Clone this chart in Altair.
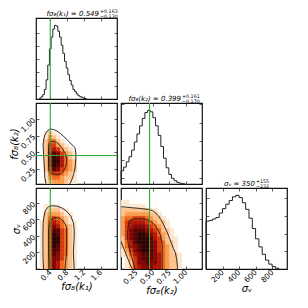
import altair as alt
import pandas as pd

FONT = "DejaVu Sans"
W = H = 81
GAP = 4
GREEN = "#38a838"

# ---------------- parameter ranges, ticks, true values ----------------
K1_DOMAIN = [0.06, 1.99]
K2_DOMAIN = [0.02, 1.24]
SV_DOMAIN = [0, 980]
K1_TICKS = [0.4, 0.8, 1.2, 1.6]
K2_TICKS = [0.25, 0.5, 0.75, 1.0]
SV_TICKS = [200, 400, 600, 800]
K1_TRUE = [0.4]
K2_TRUE = [0.45]

LABEL_K1 = "fσ₈(k₁)"
LABEL_K2 = "fσ₈(k₂)"
LABEL_SV = "σᵥ"

TITLE_K1 = ["fσ₈(k₁) = 0.549", "+0.163", "−0.130"]
TITLE_K2 = ["fσ₈(k₂) = 0.399", "+0.161", "−0.170"]
TITLE_SV = ["σᵥ = 350", "+155", "−232"]

# ---------------- 1-D marginal histograms (peak normalised to 1) ----------------
H1_START, H1_STEP = 0.14, 0.04
H1_VALUES = [0.01, 0.03, 0.06, 0.13, 0.26, 0.46, 0.68, 0.84, 0.95, 1.00, 0.99,
             0.92, 0.84, 0.73, 0.62, 0.51, 0.42, 0.33, 0.25, 0.19, 0.13, 0.10,
             0.07, 0.045, 0.033, 0.022, 0.011, 0.006]
H2_START, H2_STEP = 0.02, 0.04
H2_VALUES = [0.18, 0.23, 0.30, 0.37, 0.46, 0.57, 0.68, 0.79, 0.89, 0.97, 1.00,
             0.98, 0.90, 0.79, 0.66, 0.51, 0.35, 0.22, 0.13, 0.077, 0.044,
             0.022, 0.011, 0.004]
H3_START, H3_STEP = 0, 40
H3_VALUES = [0.65, 0.66, 0.68, 0.70, 0.76, 0.82, 0.88, 0.93, 0.98, 1.00, 0.97,
             0.90, 0.81, 0.69, 0.55, 0.41, 0.30, 0.20, 0.12, 0.066, 0.033, 0.011]
HIST_DOMAIN = [0, 1.1]
H1_YTICKS = [0.18, 0.36, 0.54, 0.72, 0.90]
H2_YTICKS = [0.08, 0.33, 0.58, 0.83, 1.08]
H3_YTICKS = [0.24, 0.48, 0.72, 0.96]

# ---------------- 2-D density grids (level 0-9, top row first) ----------------
K1_BIN = 0.0965
K2_BIN = 0.061
SV_BIN = 49

# x = fσ8(k1), y = fσ8(k2); rows 12 .. 0
A_GRID = [
    "00121000000",
    "00132100000",
    "00244210000",
    "00255321000",
    "00256532100",
    "00268753210",
    "00269864210",
    "00269964320",
    "00269864320",
    "00258754320",
    "00145543210",
    "00134432210",
    "00123332110",
]
# x = fσ8(k1), y = σv; rows 15 .. 0
B_GRID = [
    "00111100000",
    "00122211000",
    "00233321100",
    "00245432100",
    "01256542110",
    "01257643210",
    "01258854210",
    "01259854210",
    "01259954210",
    "01259954210",
    "01259854210",
    "01258854210",
    "01258754210",
    "01257753210",
    "01257643210",
    "01257643210",
]
# x = fσ8(k2), y = σv; rows 16 .. 0
C_GRID = [
    "110000000000000",
    "111111000000000",
    "222222211000000",
    "233333322100000",
    "344555432210000",
    "356666543221000",
    "356777654321000",
    "357888765422100",
    "357899876432100",
    "257899986532110",
    "246899987542210",
    "246789987543210",
    "135789987543210",
    "124678887643221",
    "013578887643221",
    "012577877643221",
    "012567776643221",
]
COLORS = ["#fde6cf", "#fcc38c", "#f99c4f", "#f06a1e", "#d8380a",
          "#b21505", "#870604", "#5a0202", "#2e0000"]
LEVELS = [1, 2, 3, 4, 5, 6, 7, 8, 9]

# ---------------- contour paths ----------------
A_OUTER = [(0.30, 0.02), (0.27, 0.12), (0.26, 0.26), (0.24, 0.46), (0.23, 0.62),
           (0.25, 0.71), (0.28, 0.77), (0.33, 0.82), (0.40, 0.85), (0.48, 0.84),
           (0.56, 0.82), (0.64, 0.78), (0.71, 0.74), (0.80, 0.69), (0.87, 0.64),
           (0.94, 0.60), (0.99, 0.565), (1.01, 0.48), (1.01, 0.41), (1.00, 0.32),
           (0.99, 0.26), (0.96, 0.18), (0.93, 0.11), (0.89, 0.05), (0.86, 0.02)]
A_INNER = [(0.46, 0.66), (0.55, 0.65), (0.62, 0.61), (0.67, 0.57), (0.73, 0.51),
           (0.77, 0.46), (0.79, 0.40), (0.79, 0.34), (0.76, 0.27), (0.71, 0.21),
           (0.64, 0.17), (0.56, 0.16), (0.48, 0.17), (0.40, 0.19), (0.37, 0.23),
           (0.36, 0.30), (0.36, 0.40), (0.36, 0.50), (0.36, 0.57), (0.38, 0.63),
           (0.42, 0.66), (0.46, 0.66)]
B_OUTER = [(0.24, 0), (0.23, 100), (0.225, 250), (0.225, 400), (0.23, 550),
           (0.25, 640), (0.28, 700), (0.32, 735), (0.36, 752), (0.44, 765),
           (0.56, 760), (0.67, 740), (0.79, 700), (0.89, 640), (0.95, 560),
           (0.97, 480), (0.97, 400), (0.96, 300), (0.95, 194), (0.96, 100), (0.97, 0)]
B_INNER = [(0.375, 0), (0.37, 100), (0.36, 194), (0.36, 300), (0.36, 400),
           (0.36, 478), (0.38, 540), (0.40, 579), (0.44, 605), (0.48, 619),
           (0.60, 619), (0.66, 605), (0.71, 579), (0.76, 540), (0.79, 498),
           (0.79, 400), (0.79, 275), (0.78, 150), (0.76, 60), (0.75, 0)]
C_OUTER_TOP = [(0.02, 753), (0.10, 748), (0.19, 741), (0.30, 733), (0.44, 720),
               (0.50, 705), (0.54, 680), (0.58, 645), (0.62, 599), (0.66, 540),
               (0.70, 470), (0.74, 397), (0.78, 310), (0.81, 250), (0.84, 194),
               (0.86, 110), (0.87, 32), (0.87, 0)]
C_OUTER_LOW = [(0.02, 336), (0.05, 270), (0.09, 194), (0.13, 110), (0.16, 50), (0.19, 0)]
C_INNER = [(0.237, 0), (0.21, 60), (0.18, 150), (0.15, 230), (0.13, 300),
           (0.12, 380), (0.12, 450), (0.13, 520), (0.14, 570), (0.17, 597),
           (0.22, 607), (0.33, 607), (0.39, 603), (0.45, 585), (0.50, 555),
           (0.54, 518), (0.58, 470), (0.62, 397), (0.64, 300), (0.64, 194),
           (0.64, 100), (0.64, 0)]


# ---------------- helpers ----------------
def sc(dom):
    return alt.Scale(domain=dom, nice=False, zero=False)


def ax(orient, values, labels=False, fmt=None, title=None):
    kw = dict(orient=orient, values=values, labels=labels, tickSize=3, offset=-3,
              domain=False, grid=False, tickColor="#333333", tickWidth=0.8,
              title=title)
    if labels:
        kw.update(format=fmt, labelAngle=315, labelAlign="right",
                  labelBaseline="middle", labelFont=FONT, labelFontSize=7.5,
                  labelColor="black", labelPadding=2, labelOverlap=False,
                  labelFlush=False)
    if title:
        kw.update(titleFont=FONT, titleFontSize=10, titleFontStyle="italic",
                  titleFontWeight="normal", titleColor="black", titlePadding=0)
    return alt.Axis(**kw)


def hist_df(start, step, values):
    n = len(values)
    xs = [start] + [start + i * step for i in range(n)] + [start + n * step]
    ys = [0] + list(values) + [0]
    return pd.DataFrame({"x": xs, "y": ys, "i": list(range(len(xs)))})


def grid_df(rows, xstart, xstep, ystart, ystep):
    n = len(rows)
    recs = []
    for r, s in enumerate(rows):
        j = n - 1 - r
        for i, ch in enumerate(s):
            lv = int(ch)
            if lv:
                recs.append({"x": xstart + i * xstep, "x2": xstart + (i + 1) * xstep,
                             "y": ystart + j * ystep, "y2": ystart + (j + 1) * ystep,
                             "lv": lv})
    return pd.DataFrame(recs)


def contour_df(paths):
    recs = []
    for g, path in enumerate(paths):
        for i, (x, y) in enumerate(path):
            recs.append({"x": x, "y": y, "g": g, "i": i})
    return pd.DataFrame(recs)


def frame(xdom, ydom, xt, yt):
    df = pd.DataFrame({"x": [xdom[0]], "y": [ydom[0]]})
    return alt.Chart(df).mark_point(opacity=0, size=1).encode(
        x=alt.X("x:Q", scale=sc(xdom), axis=ax("top", xt)),
        y=alt.Y("y:Q", scale=sc(ydom), axis=ax("right", yt)),
    )


def vrule(vals, dom):
    return alt.Chart(pd.DataFrame({"v": vals})).mark_rule(
        color=GREEN, strokeWidth=1.1).encode(x=alt.X("v:Q", scale=sc(dom), axis=None))


def hrule(vals, dom):
    return alt.Chart(pd.DataFrame({"v": vals})).mark_rule(
        color=GREEN, strokeWidth=1.1).encode(y=alt.Y("v:Q", scale=sc(dom), axis=None))


def title_marks(parts, xsplit):
    out = []
    specs = [(parts[0], "right", xsplit, -2.2, 7, "italic"),
             (parts[1], "left", xsplit + 1, -4.6, 4.8, "normal"),
             (parts[2], "left", xsplit + 1, -0.3, 4.8, "normal")]
    for txt, align, x, y, size, style in specs:
        out.append(alt.Chart(pd.DataFrame({"t": [txt]})).mark_text(
            font=FONT, fontSize=size, fontStyle=style, align=align,
            baseline="alphabetic", color="black").encode(
            x=alt.value(x), y=alt.value(y), text="t:N"))
    return out


def hist_panel(start, step, vals, xdom, xt, yt, truth, title, xsplit,
               xlabels=False, xfmt=None, xtitle=None):
    base = alt.Chart(hist_df(start, step, vals)).mark_line(
        interpolate="step-after", color="#222222", strokeWidth=1).encode(
        x=alt.X("x:Q", scale=sc(xdom), axis=ax("bottom", xt, xlabels, xfmt, xtitle)),
        y=alt.Y("y:Q", scale=sc(HIST_DOMAIN), axis=ax("left", yt)),
        order="i:Q",
    )
    layers = [base]
    if truth:
        layers.append(vrule(truth, xdom))
    layers.append(frame(xdom, HIST_DOMAIN, xt, yt))
    layers += title_marks(title, xsplit)
    return alt.layer(*layers).resolve_axis(x="independent", y="independent").properties(
        width=W, height=H)


CSCALE = alt.Scale(domain=LEVELS, range=COLORS)


def panel2d(rows, gx, gy, paths, xdom, ydom, xt, yt, xkw, ykw, vtruth, htruth):
    rect = alt.Chart(grid_df(rows, xdom[0], gx, ydom[0], gy)).mark_rect(
        clip=True, strokeWidth=0.5).encode(
        x=alt.X("x:Q", scale=sc(xdom), axis=ax("bottom", xt, **xkw)),
        x2="x2:Q",
        y=alt.Y("y:Q", scale=sc(ydom), axis=ax("left", yt, **ykw)),
        y2="y2:Q",
        color=alt.Color("lv:Q", scale=CSCALE, legend=None),
        stroke=alt.Stroke("lv:Q", scale=CSCALE, legend=None),
    )
    cont = alt.Chart(contour_df(paths)).mark_line(
        clip=True, color="#1a1a1a", strokeWidth=0.9).encode(
        x=alt.X("x:Q", scale=sc(xdom), axis=None),
        y=alt.Y("y:Q", scale=sc(ydom), axis=None),
        detail="g:N", order="i:Q",
    )
    layers = [rect, cont]
    if vtruth:
        layers.append(vrule(vtruth, xdom))
    if htruth:
        layers.append(hrule(htruth, ydom))
    layers.append(frame(xdom, ydom, xt, yt))
    return alt.layer(*layers).resolve_axis(x="independent", y="independent").properties(
        width=W, height=H)


def blank():
    return alt.Chart(pd.DataFrame({"a": [0]})).mark_point(opacity=0).encode(
        x=alt.value(0), y=alt.value(0)).properties(
        width=W, height=H, view=alt.ViewBackground(strokeOpacity=0))


# ---------------- panels ----------------
hist1 = hist_panel(H1_START, H1_STEP, H1_VALUES, K1_DOMAIN, K1_TICKS, H1_YTICKS,
                   K1_TRUE, TITLE_K1, 63)
hist2 = hist_panel(H2_START, H2_STEP, H2_VALUES, K2_DOMAIN, K2_TICKS, H2_YTICKS,
                   K2_TRUE, TITLE_K2, 60)
hist3 = hist_panel(H3_START, H3_STEP, H3_VALUES, SV_DOMAIN, SV_TICKS, H3_YTICKS,
                   None, TITLE_SV, 49, xlabels=True, xfmt="d", xtitle=LABEL_SV)

pA = panel2d(A_GRID, K1_BIN, K2_BIN, [A_OUTER, A_INNER], K1_DOMAIN, K2_DOMAIN,
             K1_TICKS, K2_TICKS, {},
             {"labels": True, "fmt": ".2f", "title": LABEL_K2}, K1_TRUE, K2_TRUE)
pB = panel2d(B_GRID, K1_BIN, SV_BIN, [B_OUTER, B_INNER], K1_DOMAIN, SV_DOMAIN,
             K1_TICKS, SV_TICKS,
             {"labels": True, "fmt": ".1f", "title": LABEL_K1},
             {"labels": True, "fmt": "d", "title": LABEL_SV}, K1_TRUE, None)
pC = panel2d(C_GRID, K2_BIN, SV_BIN, [C_OUTER_TOP, C_OUTER_LOW, C_INNER],
             K2_DOMAIN, SV_DOMAIN, K2_TICKS, SV_TICKS,
             {"labels": True, "fmt": ".2f", "title": LABEL_K2}, {}, K2_TRUE, None)

chart = alt.concat(
    hist1, blank(), blank(),
    pA, hist2, blank(),
    pB, pC, hist3,
    columns=3, spacing=GAP, bounds="flush",
).properties(
    padding={"left": 0, "top": 0, "right": 0, "bottom": 0}
).configure_view(stroke="#111111", strokeWidth=1.2)

chart.save("out.html", embed_options={"renderer": "svg", "actions": False})
